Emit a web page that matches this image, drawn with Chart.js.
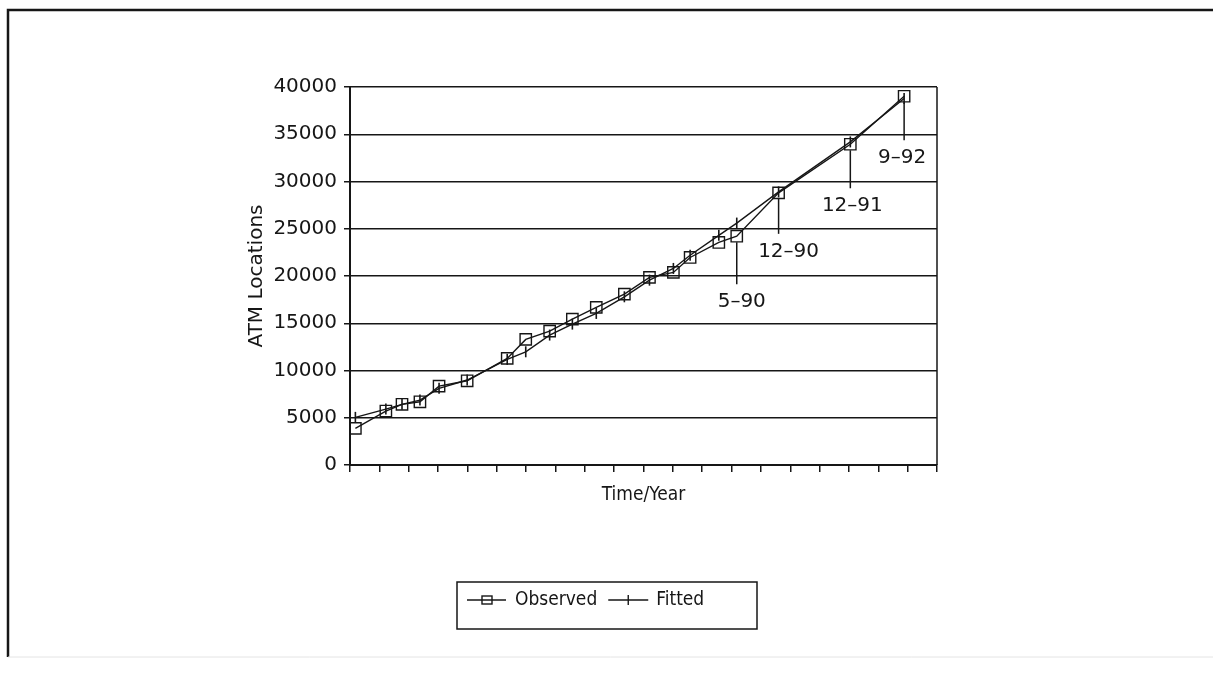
<!DOCTYPE html>
<html>
<head>
<meta charset="utf-8">
<title>ATM Locations</title>
<script src="https://cdn.jsdelivr.net/npm/chart.js@4.4.1/dist/chart.umd.min.js"></script>
<style>
  html, body { margin: 0; padding: 0; background: #fff; }
  #wrap { width: 1213px; height: 675px; }
</style>
</head>
<body>
<div id="wrap"><canvas id="atm" width="1213" height="675"></canvas></div>
<script>
var months   = [0.2, 5.3, 8, 11, 14.2, 18.9, 25.6, 28.7, 32.7, 36.5, 40.5, 45.2, 49.4, 53.4, 56.2, 61, 64, 71, 83, 92];
var observed = [3880, 5710, 6420, 6690, 8350, 8910, 11280, 13290, 14170, 15440, 16680, 18080, 19850, 20380, 21960, 23550, 24210, 28800, 33940, 39020];
var fitted   = [5040, 5920, 6420, 6870, 8110, 8990, 11180, 11980, 13750, 14910, 16040, 17800, 19560, 20800, 22200, 24300, 25600, 28900, 34190, 38780];

// labelled observations
var markedIdx  = [16, 17, 18, 19];
var markedText = ['5–90', '12–90', '12–91', '9–92'];

var xMin = -0.7, xMax = 97.5, xTickCount = 20;
var yMin = 0, yMax = 40000, yStep = 5000;

var ink = '#161616';
var tickFont = { family: 'DejaVu Sans', size: 20 };
var narrowFont = "'Liberation Sans Narrow', 'DejaVu Sans Condensed', 'DejaVu Sans'";

function pairs(ys) {
  return months.map(function (m, i) { return { x: m, y: ys[i] }; });
}

var paperFrame = {
  id: 'paperFrame',
  beforeDraw: function (chart) {
    var ctx = chart.ctx;
    ctx.save();
    ctx.fillStyle = '#fff';
    ctx.fillRect(0, 0, chart.width, chart.height);
    ctx.strokeStyle = ink;
    ctx.lineWidth = 2.5;
    ctx.beginPath();
    ctx.moveTo(8, 657);
    ctx.lineTo(8, 10);
    ctx.lineTo(chart.width, 10);
    ctx.stroke();
    ctx.strokeStyle = '#e4e4e4';
    ctx.lineWidth = 1;
    ctx.beginPath();
    ctx.moveTo(8, 657);
    ctx.lineTo(chart.width, 657);
    ctx.stroke();
    ctx.restore();
  },
  beforeDatasetsDraw: function (chart) {
    // right side of the plot frame
    var a = chart.chartArea, ctx = chart.ctx;
    ctx.save();
    ctx.strokeStyle = ink;
    ctx.lineWidth = 1.5;
    ctx.beginPath();
    ctx.moveTo(a.right, a.top);
    ctx.lineTo(a.right, a.bottom);
    ctx.stroke();
    ctx.restore();
  },
  afterDatasetsDraw: function (chart) {
    var ctx = chart.ctx, xs = chart.scales.x, ys = chart.scales.y;
    var dx = [5, 10, 2, -2];
    var len = [42, 35, 38, 38];
    ctx.save();
    ctx.strokeStyle = ink;
    ctx.fillStyle = ink;
    ctx.lineWidth = 1.5;
    ctx.font = '20px "DejaVu Sans"';
    ctx.textAlign = 'center';
    ctx.textBaseline = 'middle';
    markedIdx.forEach(function (idx, k) {
      var px = xs.getPixelForValue(months[idx]);
      var py = ys.getPixelForValue(observed[idx]);
      ctx.beginPath();
      ctx.moveTo(px, py + 6);
      ctx.lineTo(px, py + 6 + len[k]);
      ctx.stroke();
      ctx.fillText(markedText[k], px + dx[k], py + 6 + len[k] + 18);
    });
    ctx.restore();
  },
  afterDraw: function (chart) {
    // boxed legend under the plot
    var ctx = chart.ctx;
    var box = { left: 457, top: 582, width: 300, height: 47 };
    var cy = 600;
    ctx.save();
    ctx.strokeStyle = ink;
    ctx.lineWidth = 1.5;
    ctx.strokeRect(box.left, box.top, box.width, box.height);

    ctx.font = '19px ' + narrowFont;
    ctx.fillStyle = ink;
    ctx.textBaseline = 'middle';
    ctx.textAlign = 'left';

    var x = 467;
    ctx.lineWidth = 1.4;
    ctx.beginPath();
    ctx.moveTo(x, cy);
    ctx.lineTo(x + 39, cy);
    ctx.stroke();
    ctx.strokeRect(x + 15, cy - 4, 10, 8);
    ctx.fillText('Observed', x + 48, cy);

    x = x + 48 + ctx.measureText('Observed').width + 11;
    ctx.beginPath();
    ctx.moveTo(x, cy);
    ctx.lineTo(x + 40, cy);
    ctx.moveTo(x + 20, cy - 5);
    ctx.lineTo(x + 20, cy + 5);
    ctx.stroke();
    ctx.fillText('Fitted', x + 48, cy);
    ctx.restore();
  }
};

new Chart(document.getElementById('atm').getContext('2d'), {
  type: 'line',
  data: {
    datasets: [{
      label: 'Observed',
      data: pairs(observed),
      borderColor: ink,
      borderWidth: 1.4,
      tension: 0,
      pointStyle: 'rect',
      pointRadius: 8,
      pointBorderWidth: 1.4,
      pointBorderColor: ink,
      pointBackgroundColor: 'rgba(0,0,0,0)'
    }, {
      label: 'Fitted',
      data: pairs(fitted),
      borderColor: ink,
      borderWidth: 1.4,
      tension: 0,
      pointStyle: 'line',
      pointRotation: 90,
      pointRadius: 5.5,
      pointBorderWidth: 1.6,
      pointBorderColor: ink
    }]
  },
  options: {
    responsive: false,
    animation: false,
    devicePixelRatio: 1,
    layout: { padding: { left: 245, right: 276, top: 87, bottom: 165 } },
    plugins: {
      legend: { display: false },
      tooltip: { enabled: false }
    },
    scales: {
      x: {
        type: 'linear',
        min: xMin,
        max: xMax,
        afterBuildTicks: function (scale) {
          var t = [];
          for (var i = 0; i <= xTickCount; i++) {
            t.push({ value: xMin + (xMax - xMin) * i / xTickCount });
          }
          scale.ticks = t;
        },
        afterFit: function (scale) { scale.height = 45; },
        ticks: { autoSkip: false, callback: function () { return ''; } },
        grid: { drawOnChartArea: false, tickLength: 7, color: ink, lineWidth: 1.5 },
        border: { color: ink, width: 2 },
        title: {
          display: true,
          text: 'Time/Year',
          color: ink,
          font: { family: narrowFont, size: 19 },
          padding: { top: 0, bottom: 4 }
        }
      },
      y: {
        min: yMin,
        max: yMax,
        afterFit: function (scale) { scale.width = 105; },
        ticks: {
          stepSize: yStep,
          padding: 7,
          color: ink,
          font: tickFont,
          callback: function (v) { return String(v); }
        },
        grid: { color: ink, lineWidth: 1.5, tickLength: 6 },
        border: { color: ink, width: 2 },
        title: {
          display: true,
          text: 'ATM Locations',
          color: ink,
          font: { family: 'DejaVu Sans', size: 20 },
          padding: { top: 0, bottom: 0 }
        }
      }
    }
  },
  plugins: [paperFrame]
});
</script>
</body>
</html>
